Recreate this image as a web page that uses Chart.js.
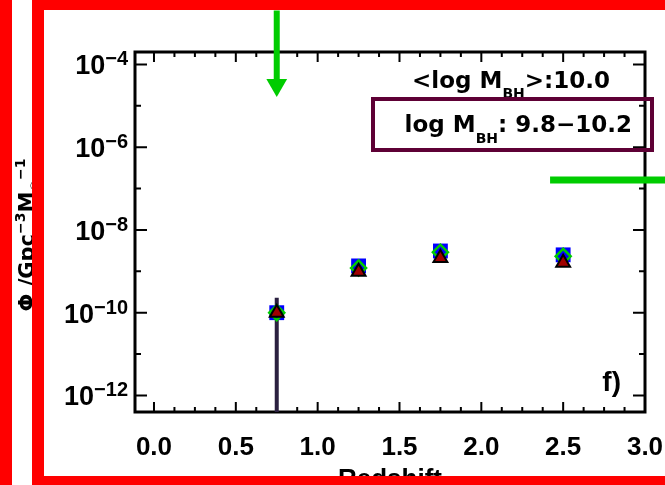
<!DOCTYPE html>
<html>
<head>
<meta charset="utf-8">
<script src="https://cdn.jsdelivr.net/npm/chart.js@4.4.1/dist/chart.umd.min.js"></script>
<style>
  html, body { margin: 0; padding: 0; background: #fff; }
  canvas { display: block; }
</style>
</head>
<body>
<canvas id="mycanvas" width="665" height="485"></canvas>
<script>
// values
var redshift = [0.75, 1.25, 1.75, 2.5];
var phiSquare = [1.0e-10, 1.35e-9, 3.1e-9, 2.5e-9];
var phiDiamond = [1.0e-10, 1.2e-9, 2.9e-9, 2.3e-9];
var phiTriangle = [1.0e-10, 9.7e-10, 2.1e-9, 1.6e-9];

var errX = [0.75, 0.75];
var errY = [2.3e-10, 1e-14];

var arrowX = [0.75, 0.75];
var arrowY = [2.0e-3, 3.2e-5];

var limitX = [2.42, 3.2];
var limitY = [1.6e-7, 1.6e-7];

var xTicks = [0.0, 0.5, 1.0, 1.5, 2.0, 2.5, 3.0];
var yTickExp = [-4, -6, -8, -10, -12];

function pts(xs, ys) {
  var out = [];
  for (var i in xs) {
    out.push({x: xs[i], y: ys[i]});
  }
  return out;
}

function drawRuns(c, runs, x, y, align) {
  var total = 0;
  for (var i = 0; i < runs.length; i++) {
    c.font = 'bold ' + runs[i].size + 'px ' + (runs[i].family || '"DejaVu Sans"');
    runs[i].w = c.measureText(runs[i].t).width;
    total += runs[i].w;
  }
  var cx = x;
  if (align == 'right') cx = x - total;
  if (align == 'center') cx = x - total / 2;
  c.textAlign = 'left';
  c.textBaseline = 'alphabetic';
  for (var j = 0; j < runs.length; j++) {
    c.font = 'bold ' + runs[j].size + 'px ' + (runs[j].family || '"DejaVu Sans"');
    c.fillText(runs[j].t, cx, y + (runs[j].dy || 0));
    cx += runs[j].w;
  }
}

var decor = {
  id: 'decor',
  beforeDatasetsDraw: function(chart) {
    var c = chart.ctx, a = chart.chartArea;
    var xs = chart.scales.x, ys = chart.scales.y;
    c.save();
    c.strokeStyle = '#000';
    c.lineWidth = 3;
    c.strokeRect(a.left, a.top, a.right - a.left, a.bottom - a.top);

    c.lineWidth = 2;
    c.beginPath();
    for (var i = 0; i <= 24; i++) {
      var px = xs.getPixelForValue(i * 0.125);
      var len = (i % 4 == 0) ? 10 : 5;
      c.moveTo(px, a.bottom); c.lineTo(px, a.bottom - len);
      c.moveTo(px, a.top); c.lineTo(px, a.top + len);
    }
    for (var e = -12; e <= -4; e++) {
      var py = ys.getPixelForValue(Math.pow(10, e));
      var l2 = (e % 2 == 0) ? 12 : 6;
      c.moveTo(a.left, py); c.lineTo(a.left + l2, py);
      c.moveTo(a.right, py); c.lineTo(a.right - l2, py);
    }
    c.stroke();

    // y tick labels 10^n
    c.fillStyle = '#000';
    for (var k = 0; k < yTickExp.length; k++) {
      var ty = ys.getPixelForValue(Math.pow(10, yTickExp[k]));
      drawRuns(c, [
        {t: '10', size: 27, family: '"Liberation Sans"'},
        {t: '\u2212' + (-yTickExp[k]), size: 20, family: '"Liberation Sans"', dy: -9}
      ], a.left - 7, ty + 10, 'right');
    }
    c.restore();
  },
  afterDraw: function(chart) {
    var c = chart.ctx, a = chart.chartArea;
    c.save();
    c.fillStyle = '#000';

    // annotations upper right
    drawRuns(c, [
      {t: '<log M', size: 23},
      {t: 'BH', size: 14, dy: 10},
      {t: '>:10.0', size: 23}
    ], 610, 88, 'right');
    drawRuns(c, [
      {t: 'log M', size: 23},
      {t: 'BH', size: 14, dy: 11},
      {t: ': 9.8\u221210.2', size: 23}
    ], 632, 132, 'right');

    c.strokeStyle = '#5e0035';
    c.lineWidth = 4;
    c.strokeRect(373, 99, 279, 51);

    // panel tag
    c.font = 'bold 28px "Liberation Sans"';
    c.textAlign = 'right';
    c.textBaseline = 'alphabetic';
    c.fillText('f)', 621, 391);

    // x title
    c.font = 'bold 26px "Liberation Sans"';
    c.textAlign = 'center';
    c.fillText('Redshift', (a.left + a.right) / 2, 487);

    // y title
    c.save();
    c.translate(34, 235);
    c.rotate(-Math.PI / 2);
    drawRuns(c, [
      {t: '\u03a6 /Gpc', size: 21},
      {t: '\u22123', size: 14, dy: -9},
      {t: 'M', size: 21},
      {t: '\u2609', size: 13, dy: 6},
      {t: '\u22121', size: 14, dy: -9}
    ], 0, 0, 'center');
    c.restore();

    // red frame
    c.fillStyle = '#ff0000';
    c.fillRect(0, 0, 12, 485);
    c.fillRect(32, 0, 12, 485);
    c.fillRect(32, 0, 633, 10);
    c.fillRect(32, 476, 633, 9);
    c.restore();
  }
};

var chartdata = {
  datasets: [
    {
      label: 'error',
      type: 'line',
      data: pts(errX, errY),
      borderColor: '#2b2040',
      borderWidth: 4,
      pointRadius: 0,
      order: 6
    },
    {
      label: 'square',
      data: pts(redshift, phiSquare),
      pointStyle: 'rect',
      pointRadius: 10.5,
      backgroundColor: '#0000ff',
      borderWidth: 0,
      order: 5
    },
    {
      label: 'diamond',
      data: pts(redshift, phiDiamond),
      pointStyle: 'rectRot',
      pointRadius: 7.5,
      backgroundColor: 'rgba(0,0,0,0)',
      borderColor: '#00cc00',
      borderWidth: 2.5,
      order: 4
    },
    {
      label: 'triangle',
      data: pts(redshift, phiTriangle),
      pointStyle: 'triangle',
      pointRadius: 10,
      backgroundColor: '#000000',
      borderWidth: 0,
      order: 3
    },
    {
      label: 'triangle red',
      data: pts(redshift, phiTriangle),
      pointStyle: 'triangle',
      pointRadius: 6,
      backgroundColor: '#a00000',
      borderWidth: 0,
      order: 2
    },
    {
      label: 'arrow',
      type: 'line',
      data: pts(arrowX, arrowY),
      borderColor: '#00cc00',
      borderWidth: 6,
      pointRadius: [0, 12],
      pointStyle: 'triangle',
      rotation: 180,
      pointBackgroundColor: '#00cc00',
      pointBorderWidth: 0,
      clip: false,
      order: 1
    },
    {
      label: 'limit',
      type: 'line',
      data: pts(limitX, limitY),
      borderColor: '#00cc00',
      borderWidth: 7,
      pointRadius: 0,
      clip: false,
      order: 1
    }
  ]
};

var ctx = document.getElementById('mycanvas');

var LineGraph = new Chart(ctx, {
  type: 'scatter',
  data: chartdata,
  plugins: [decor],
  options: {
    responsive: false,
    animation: false,
    layout: { padding: { top: 52, right: 20, left: 0, bottom: 0 } },
    plugins: { legend: { display: false }, tooltip: { enabled: false } },
    scales: {
      x: {
        type: 'linear',
        min: -0.116,
        max: 3.0,
        grid: { display: false, drawTicks: false },
        border: { display: false },
        afterBuildTicks: function(scale) {
          scale.ticks = xTicks.map(function(v) { return {value: v}; });
        },
        afterFit: function(scale) {
          scale.height = 73;
          scale.paddingLeft = 0;
          scale.paddingRight = 0;
        },
        ticks: {
          autoSkip: false,
          maxRotation: 0,
          padding: 20,
          color: '#000',
          font: { family: '"Liberation Sans"', size: 26, weight: 'bold' },
          callback: function(v) { return Number(v).toFixed(1); }
        }
      },
      y: {
        type: 'logarithmic',
        min: Math.pow(10, -12.4),
        max: Math.pow(10, -3.7),
        grid: { display: false, drawTicks: false },
        border: { display: false },
        ticks: { display: false },
        afterFit: function(scale) { scale.width = 135; }
      }
    }
  }
});
</script>
</body>
</html>
